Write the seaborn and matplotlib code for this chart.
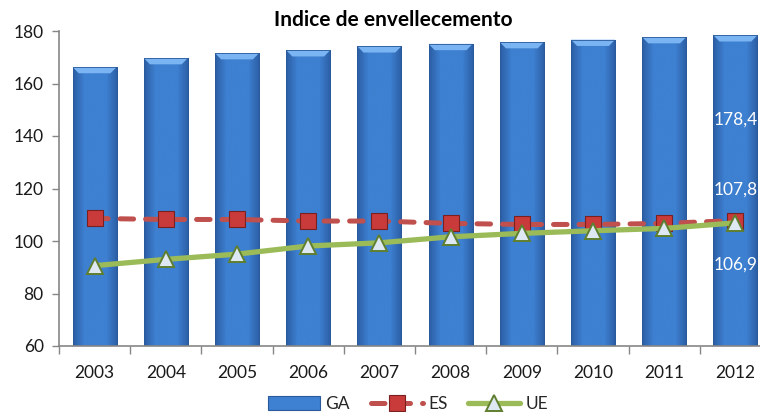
"""
Indice de envellecemento: GA bars with ES / UE lines
"""

import matplotlib.pyplot as plt
import matplotlib.colors as mcolors
from matplotlib.patches import Polygon, Patch
from matplotlib.lines import Line2D
import seaborn as sns
import pandas as pd
import numpy as np

# Data
years = ['2003', '2004', '2005', '2006', '2007', '2008', '2009', '2010', '2011', '2012']
ga = [166.3, 169.7, 171.6, 172.7, 174.2, 175.1, 175.8, 176.7, 177.7, 178.4]
es = [108.6, 108.2, 108.2, 107.6, 107.6, 106.7, 106.3, 106.3, 106.7, 107.8]
ue = [90.6, 93.0, 95.0, 98.1, 99.3, 101.6, 102.9, 103.9, 104.8, 106.9]
title = 'Indice de envellecemento'

df = pd.DataFrame({'year': years, 'GA': ga, 'ES': es, 'UE': ue})

BAR_EDGE = '#2a5a9a'
BAR_DARK = '#2b5ea4'
BAR_MID = '#3e80d1'
BAR_TOP = '#7ab4f2'
ES_RED = '#c0504d'
UE_GREEN = '#9bbb59'
ES_DASH = (0, (2.7, 2.4))


def shade_bars(ax):
    """Horizontal gradient + bevelled top, clipped to each bar"""
    cmap = mcolors.LinearSegmentedColormap.from_list(
        'bar', [BAR_DARK, BAR_MID, BAR_MID, BAR_MID, BAR_DARK])
    grad = np.linspace(0, 1, 64).reshape(1, -1)
    xlim, ylim = ax.get_xlim(), ax.get_ylim()
    for p in list(ax.patches):
        x0, w, h = p.get_x(), p.get_width(), p.get_height()
        top = p.get_y() + h
        im = ax.imshow(grad, cmap=cmap, extent=[x0, x0 + w, ylim[0], top],
                       aspect='auto', interpolation='bicubic', zorder=p.get_zorder())
        im.set_clip_path(p)
        bev_y = 2.4
        bev_x = w * 0.14
        ax.add_patch(Polygon([[x0, top], [x0 + w, top], [x0 + w - bev_x, top - bev_y],
                              [x0 + bev_x, top - bev_y]], closed=True,
                             facecolor=BAR_TOP, edgecolor='none', zorder=p.get_zorder() + 0.1))
        p.set_facecolor('none')
        p.set_zorder(p.get_zorder() + 0.2)
    ax.set_xlim(xlim)
    ax.set_ylim(ylim)


sns.set_style('white')
plt.rcParams['font.family'] = ['Lato', 'DejaVu Sans']

fig = plt.figure(figsize=(7.6, 4.12), dpi=100)
ax = fig.add_axes([59 / 760, 66 / 412, 712 / 760, 315 / 412])

sns.barplot(data=df, x='year', y='GA', color=BAR_MID, width=0.62,
            edgecolor=BAR_EDGE, linewidth=0.6, ax=ax, zorder=2)
ax.set_ylim(60, 180)
ax.set_xlim(-0.5, len(years) - 0.5)
shade_bars(ax)

sns.lineplot(data=df, x='year', y='ES', sort=False, ax=ax, color=ES_RED,
             linewidth=3.6, linestyle=ES_DASH, dash_capstyle='round',
             marker='s', markersize=11, markerfacecolor='#c93a3a',
             markeredgecolor='#7a2020', markeredgewidth=0.8, zorder=4)
sns.lineplot(data=df, x='year', y='UE', sort=False, ax=ax, color=UE_GREEN,
             linewidth=3.8, marker='^', markersize=12, markerfacecolor='#dde8f3',
             markeredgecolor='#5f7f2e', markeredgewidth=1.4, zorder=5)
ax.set_xlim(-0.5, len(years) - 0.5)
ax.set_ylim(60, 180)

# axes styling
ax.set_xlabel('')
ax.set_ylabel('')
ax.set_yticks(np.arange(60, 181, 20))
ax.tick_params(axis='y', which='major', direction='out', length=5, width=1,
               color='#868686', labelsize=12.5, labelcolor='#1a1a1a', pad=6, left=True)
ax.tick_params(axis='x', which='major', length=0, labelsize=12.5,
               labelcolor='#1a1a1a', pad=14)
ax.set_xticks(np.arange(-0.5, len(years), 1.0), minor=True)
ax.tick_params(axis='x', which='minor', direction='out', length=6, width=1,
               color='#868686', bottom=True)
for side in ['top', 'right']:
    ax.spines[side].set_visible(False)
for side in ['left', 'bottom']:
    ax.spines[side].set_color('#868686')
    ax.spines[side].set_linewidth(1.2)
ax.grid(False)
ax.set_facecolor('none')

# value labels on the last year
last = len(years) - 1
ax.annotate(f'{ga[last]:.1f}'.replace('.', ','), (last, ga[last]),
            xytext=(0, -61), textcoords='offset points', ha='center', va='center',
            color='white', fontsize=12.5, zorder=6)
ax.annotate(f'{es[last]:.1f}'.replace('.', ','), (last, es[last]),
            xytext=(0, 22), textcoords='offset points', ha='center', va='center',
            color='white', fontsize=12.5, zorder=6)
ax.annotate(f'{ue[last]:.1f}'.replace('.', ','), (last, ue[last]),
            xytext=(0, -30), textcoords='offset points', ha='center', va='center',
            color='white', fontsize=12.5, zorder=6)

fig.text(393 / 760, 1 - 20 / 412, title, ha='center', va='center',
         fontsize=15, fontweight='bold', color='black')

handles = [
    Patch(facecolor=BAR_MID, edgecolor=BAR_EDGE, linewidth=0.8),
    Line2D([], [], color=ES_RED, linewidth=3.6, linestyle=ES_DASH,
           dash_capstyle='round', marker='s', markersize=11,
           markerfacecolor='#c93a3a', markeredgecolor='#7a2020', markeredgewidth=0.8),
    Line2D([], [], color=UE_GREEN, linewidth=3.8, marker='^', markersize=12,
           markerfacecolor='#dde8f3', markeredgecolor='#5f7f2e', markeredgewidth=1.4),
]
fig.legend(handles, ['GA', 'ES', 'UE'], loc='center', ncol=3, frameon=False,
           bbox_to_anchor=(408 / 760, 1 - 404 / 412), fontsize=12.5,
           handlelength=3.0, handleheight=0.8, handletextpad=0.3,
           columnspacing=1.2, numpoints=1)

fig.savefig('out.png', dpi=100)
